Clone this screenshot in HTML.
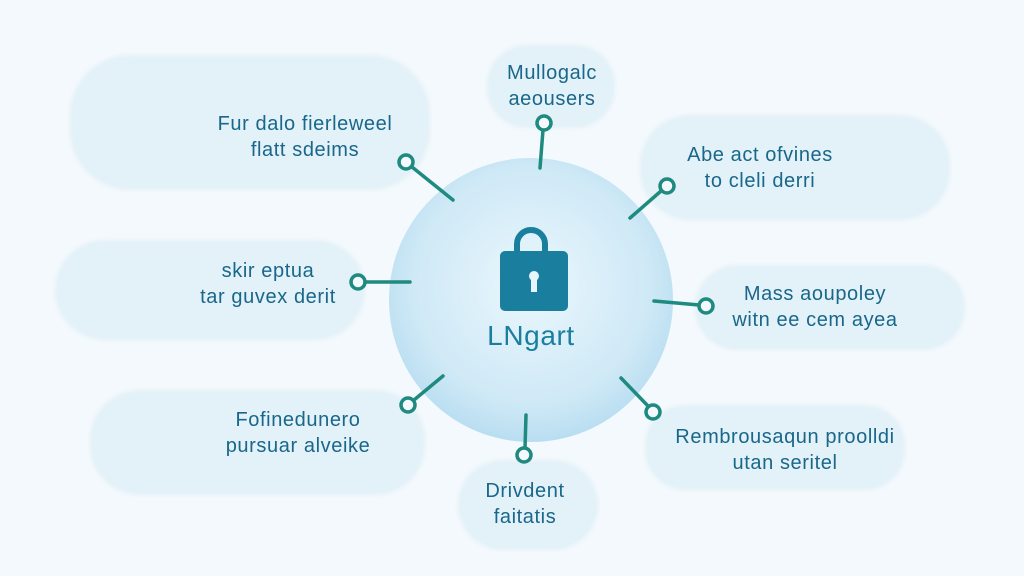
<!DOCTYPE html>
<html><head><style>
body{margin:0;width:1024px;height:576px;overflow:hidden;background:#f3f9fc;font-family:"Liberation Sans",sans-serif}
.b{position:absolute;background:#e3f1f8;border-radius:50px;filter:blur(1.5px)}
.t{position:absolute;color:#19678a;font-size:20px;line-height:26px;letter-spacing:0.6px;text-align:center;white-space:nowrap;transform:translateX(-50%)}
</style></head><body>
<div class="b" style="left:70px;top:55px;width:360px;height:135px;border-radius:60px"></div>
<div class="b" style="left:487px;top:45px;width:128px;height:83px;border-radius:40px"></div>
<div class="b" style="left:640px;top:115px;width:310px;height:105px"></div>
<div class="b" style="left:55px;top:240px;width:310px;height:100px"></div>
<div class="b" style="left:695px;top:265px;width:270px;height:85px;border-radius:42px"></div>
<div class="b" style="left:90px;top:390px;width:335px;height:105px"></div>
<div class="b" style="left:645px;top:405px;width:260px;height:85px;border-radius:40px"></div>
<div class="b" style="left:458px;top:460px;width:140px;height:90px;border-radius:45px"></div>
<svg width="1024" height="576" style="position:absolute;left:0;top:0">
<defs><radialGradient id="g" cx="50%" cy="45%" r="55%"><stop offset="0" stop-color="#eaf7fd"/><stop offset="0.75" stop-color="#cfe9f6"/><stop offset="1" stop-color="#b9def1"/></radialGradient></defs>
<circle cx="531" cy="300" r="142" fill="url(#g)"/>
<path d="M517 252 v-8 a14 14 0 0 1 28 0 v8" fill="none" stroke="#1a7f9f" stroke-width="6"/>
<rect x="500" y="251" width="68" height="60" rx="5" fill="#1a7f9f"/>
<circle cx="534" cy="276" r="5" fill="#e8f6fb"/><rect x="531" y="278" width="6" height="14" fill="#e8f6fb"/>
<g stroke="#1e8a80" stroke-width="3.5" fill="#f3f9fc" stroke-linecap="round">
<line x1="540" y1="168" x2="543" y2="130"/><circle cx="544" cy="123" r="7"/>
<line x1="453" y1="200" x2="412" y2="167"/><circle cx="406" cy="162" r="7"/>
<line x1="630" y1="218" x2="661" y2="191"/><circle cx="667" cy="186" r="7"/>
<line x1="410" y1="282" x2="365" y2="282"/><circle cx="358" cy="282" r="7"/>
<line x1="654" y1="301" x2="699" y2="305"/><circle cx="706" cy="306" r="7"/>
<line x1="443" y1="376" x2="414" y2="400"/><circle cx="408" cy="405" r="7"/>
<line x1="621" y1="378" x2="648" y2="406"/><circle cx="653" cy="412" r="7"/>
<line x1="526" y1="415" x2="525" y2="448"/><circle cx="524" cy="455" r="7"/>
</g>
</svg>
<div class="t" style="left:531px;top:323px;font-size:28px;color:#1a7f9f">LNgart</div>
<div class="t" style="left:305px;top:111px">Fur dalo fierleweel<br>flatt sdeims</div>
<div class="t" style="left:552px;top:60px">Mullogalc<br>aeousers</div>
<div class="t" style="left:760px;top:142px">Abe act ofvines<br>to cleli derri</div>
<div class="t" style="left:268px;top:258px">skir eptua<br>tar guvex derit</div>
<div class="t" style="left:815px;top:281px">Mass aoupoley<br>witn ee cem ayea</div>
<div class="t" style="left:298px;top:407px">Fofinedunero<br>pursuar alveike</div>
<div class="t" style="left:785px;top:424px">Rembrousaqun proolldi<br>utan seritel</div>
<div class="t" style="left:525px;top:478px">Drivdent<br>faitatis</div>
</body></html>
